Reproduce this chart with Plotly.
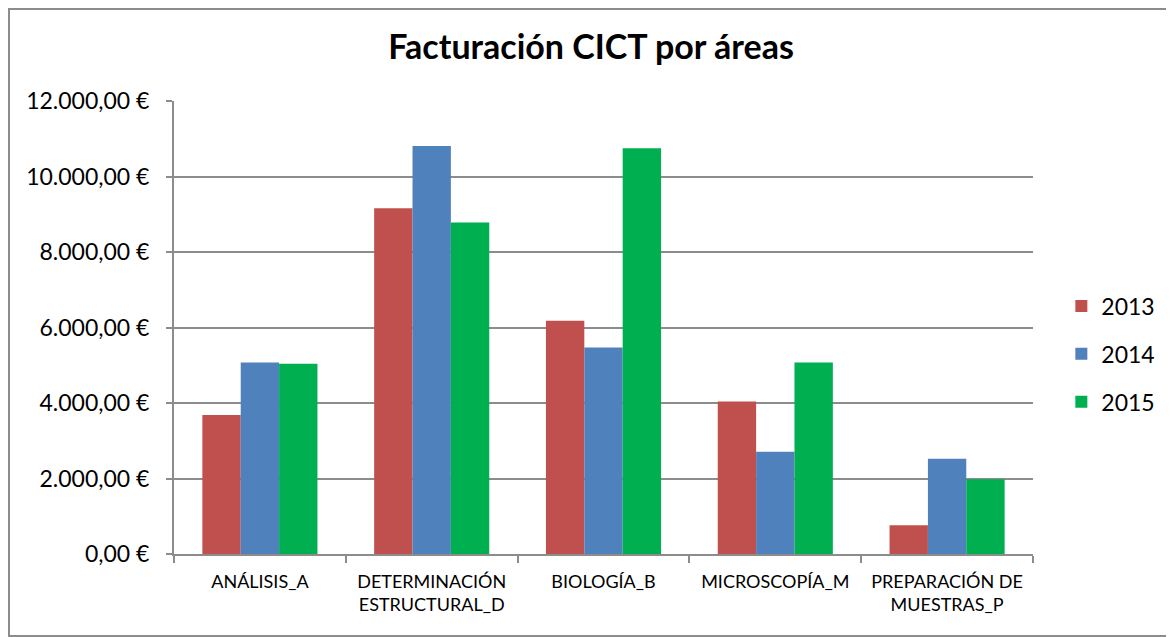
import plotly.graph_objects as go

# Datos
areas = ["ANÁLISIS_A", "DETERMINACIÓN<br>ESTRUCTURAL_D", "BIOLOGÍA_B",
         "MICROSCOPÍA_M", "PREPARACIÓN DE<br>MUESTRAS_P"]
years = ["2013", "2014", "2015"]
fact_2013 = [3680, 9160, 6180, 4040, 760]
fact_2014 = [5070, 10810, 5470, 2710, 2520]
fact_2015 = [5040, 8780, 10750, 5070, 1980]
colors = ["#C0504D", "#4F81BD", "#00B050"]

FONT = "Lato"
W, H = 1174, 637
L, R, T, B = 166, 149, 93, 91
PW, PH = W - L - R, H - T - B

fig = go.Figure()
for i, (yr, vals) in enumerate(zip(years, [fact_2013, fact_2014, fact_2015])):
    fig.add_trace(go.Bar(
        x=areas, y=vals, name=yr, legendgroup=yr,
        marker=dict(color=colors[i], line=dict(width=0)),
    ))

fig.update_layout(
    width=W, height=H,
    paper_bgcolor="white", plot_bgcolor="white",
    margin=dict(l=L, r=R, t=T, b=B),
    separators=",.",
    barmode="group", bargap=0.33, bargroupgap=0,
    font=dict(family=FONT, color="#000000"),
    title=dict(text="<b>Facturación CICT por áreas</b>",
               x=(591 - 8) / W, xanchor="center",
               y=1 - (47 - 8) / H, yanchor="middle",
               font=dict(family=FONT, size=34, color="#000000")),
    legend=dict(x=1.033, xanchor="left", y=(546 - 346) / PH, yanchor="middle",
                font=dict(family=FONT, size=23), tracegroupgap=15,
                traceorder="grouped", itemwidth=30),
    showlegend=True,
)

fig.update_yaxes(
    range=[0, 12000], dtick=2000, tickformat=",.2f", ticksuffix=" €",
    showgrid=True, gridcolor="#8C8C8C", gridwidth=2,
    showline=True, linecolor="#8C8C8C", linewidth=2,
    ticks="outside", ticklen=6, tickcolor="#8C8C8C", tickwidth=2,
    ticklabelstandoff=12,
    tickfont=dict(family=FONT, size=23, color="#000000"),
    zeroline=False,
)
fig.update_xaxes(
    showgrid=False, showline=True, linecolor="#8C8C8C", linewidth=2,
    ticks="outside", ticklen=7, tickcolor="#8C8C8C", tickwidth=2,
    tickson="boundaries", ticklabelstandoff=10,
    tickfont=dict(family=FONT, size=18, color="#000000"),
)

# Marco exterior del gráfico
fig.add_shape(type="rect", xref="paper", yref="paper",
              x0=(1 - L) / PW, x1=(W + 20 - L) / PW,
              y0=(PH + T - 628) / PH, y1=(PH + T - 1) / PH,
              line=dict(color="#8C8C8C", width=2), layer="below")

fig.write_html("out.html")
